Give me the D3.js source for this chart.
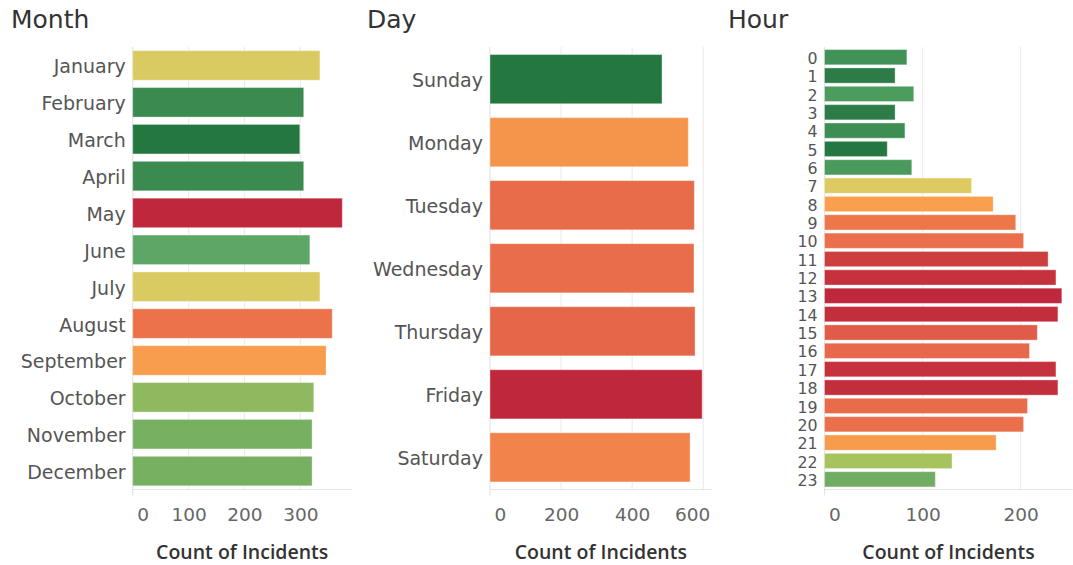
<!DOCTYPE html>
<html>
<head>
<meta charset="utf-8">
<script src="https://cdn.jsdelivr.net/npm/d3@7/dist/d3.min.js"></script>
<style>
  body { margin: 0; background: #fff; }
  svg { display: block; }
</style>
</head>
<body>
<svg id="chart" width="1073" height="565"></svg>
<script>
// Incident counts by month, weekday and hour of day
const months = ["January", "February", "March", "April", "May", "June",
  "July", "August", "September", "October", "November", "December"];
const monthCounts = [335, 306, 299, 306, 375, 317, 335, 357, 346, 324, 321, 321];
const monthTicks = [0, 100, 200, 300];

const days = ["Sunday", "Monday", "Tuesday", "Wednesday", "Thursday", "Friday", "Saturday"];
const dayCounts = [484, 558, 575, 574, 577, 597, 563];
const dayTicks = [0, 200, 400, 600];

const hours = ["0", "1", "2", "3", "4", "5", "6", "7", "8", "9", "10", "11",
  "12", "13", "14", "15", "16", "17", "18", "19", "20", "21", "22", "23"];
const hourCounts = [84, 72, 91, 72, 82, 64, 89, 150, 172, 195, 203, 228,
  236, 242, 238, 217, 209, 236, 238, 207, 203, 175, 130, 113];
const hourTicks = [0, 100, 200];

const axisTitle = "Count of Incidents";

// Red-green diverging ramp: low counts green, high counts red
const ramp = d3.scaleLinear()
  .domain([0, 0.05, 0.1, 0.14, 0.24, 0.3, 0.37, 0.48, 0.6, 0.66, 0.72, 0.8, 0.86, 0.92, 1])
  .range(["#23773f", "#2e7d48", "#3d8e53", "#4a9a5c", "#5da766", "#7db25f", "#a6c35d",
          "#dccb62", "#f9a04e", "#f5944c", "#ef7a4a", "#e96c4a", "#e05c48", "#cd3e3f", "#bf283c"])
  .interpolate(d3.interpolateRgb)
  .clamp(true);

const svg = d3.select("#chart");
const plotTop = 47, plotBottom = 489.5;

const panels = [
  { title: "Month", cats: months, vals: monthCounts, ticks: monthTicks,
    titleX: 11, x0: 132.7, x1: 351.7, pi: 0.2, po: 0.1, labelSize: 19 },
  { title: "Day", cats: days, vals: dayCounts, ticks: dayTicks,
    titleX: 367, x0: 490, x1: 711.7, pi: 0.22, po: 0.12, labelSize: 19 },
  { title: "Hour", cats: hours, vals: hourCounts, ticks: hourTicks,
    titleX: 728, x0: 824.5, x1: 1072.5, pi: 0.17, po: 0.14, labelSize: 15.8 }
];

panels.forEach(p => {
  const g = svg.append("g");
  const vmin = d3.min(p.vals), vmax = d3.max(p.vals);

  const x = d3.scaleLinear().domain([0, vmax * 1.045]).range([p.x0, p.x1]);
  const y = d3.scaleBand().domain(p.cats).range([plotTop, plotBottom])
    .paddingInner(p.pi).paddingOuter(p.po);
  const colour = v => ramp((v - vmin) / (vmax - vmin));

  // panel title
  g.append("text")
    .attr("x", p.titleX).attr("y", 28)
    .attr("font-family", "DejaVu Sans").attr("font-size", 25)
    .attr("fill", "#333").text(p.title);

  // vertical gridlines
  g.append("g").selectAll("line").data(p.ticks).join("line")
    .attr("x1", d => x(d)).attr("x2", d => x(d))
    .attr("y1", plotTop).attr("y2", d => d === 0 ? plotBottom + 6 : plotBottom)
    .attr("stroke", d => d === 0 ? "#e4e4e4" : "#ededed")
    .attr("stroke-width", 1.2);

  // bars
  g.append("g").selectAll("rect").data(p.cats).join("rect")
    .attr("x", x(0))
    .attr("y", d => y(d))
    .attr("width", (d, i) => x(p.vals[i]) - x(0))
    .attr("height", y.bandwidth())
    .attr("fill", (d, i) => colour(p.vals[i]))
    .attr("stroke", "rgba(255,255,255,0.35)")
    .attr("stroke-width", 1);

  // category labels
  g.append("g").selectAll("text").data(p.cats).join("text")
    .attr("x", x(0) - 7)
    .attr("y", d => y(d) + y.bandwidth() / 2 + 0.42 * p.labelSize)
    .attr("text-anchor", "end")
    .attr("font-family", "DejaVu Sans").attr("font-size", p.labelSize)
    .attr("fill", "#555")
    .text(d => d);

  // x axis
  const axis = g.append("g")
    .attr("transform", `translate(0,${plotBottom})`)
    .call(d3.axisBottom(x).tickValues(p.ticks).tickSize(0).tickPadding(18)
      .tickFormat(d3.format("d")));
  axis.select(".domain")
    .attr("stroke", "#e4e4e4").attr("stroke-width", 1.2)
    .attr("d", `M${p.x0},0H${p.x1}`);
  axis.selectAll("text")
    .attr("font-family", "DejaVu Sans").attr("font-size", 18.5)
    .attr("fill", "#666");
  // keep edge labels inside the axis extent
  axis.selectAll(".tick").each(function (d) {
    const t = d3.select(this).select("text");
    const w = t.node().getComputedTextLength();
    const cx = x(d);
    if (cx - w / 2 < p.x0) {
      t.attr("text-anchor", "start").attr("x", p.x0 - cx + 4);
    } else if (cx + w / 2 > p.x1) {
      t.attr("text-anchor", "end").attr("x", p.x1 - cx - 2);
    }
  });

  // axis title
  g.append("text")
    .attr("x", (p.x0 + p.x1) / 2).attr("y", 559)
    .attr("text-anchor", "middle")
    .attr("font-family", "Open Sans").attr("font-weight", 600)
    .attr("font-size", 19.5).attr("fill", "#333")
    .text(axisTitle);
});
</script>
</body>
</html>
